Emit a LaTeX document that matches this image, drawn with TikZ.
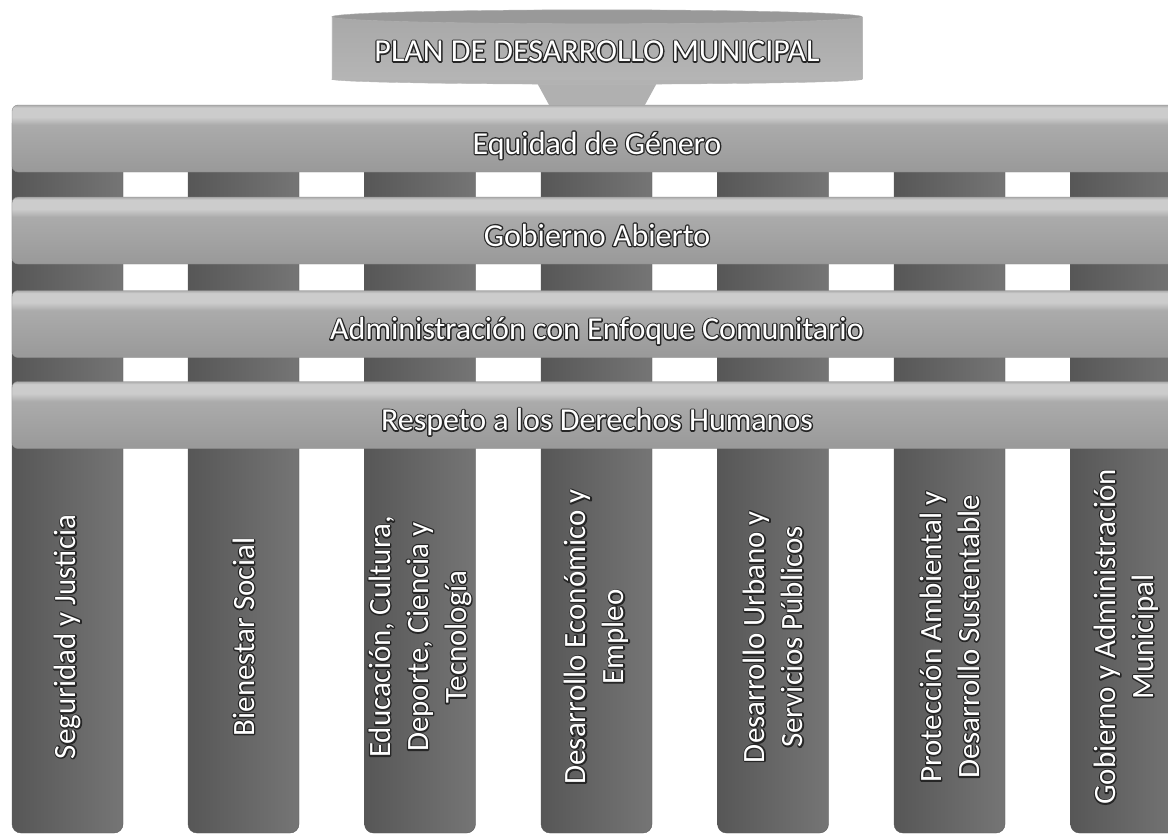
\documentclass[tikz,border=0pt]{standalone}
\usepackage{fontspec}
\setmainfont{Carlito}
\usetikzlibrary{positioning,calc}

\definecolor{bandlight}{gray}{0.80}
\definecolor{bandmid}{gray}{0.67}
\definecolor{banddark}{gray}{0.60}
\definecolor{pillardark}{gray}{0.34}
\definecolor{pillarlight}{gray}{0.46}

\pgfdeclareverticalshading{bandshade}{100bp}{color(0bp)=(banddark); color(25bp)=(banddark); color(60bp)=(bandmid); color(66bp)=(bandlight); color(73bp)=(bandlight); color(75bp)=(bandmid); color(100bp)=(bandmid)}

% white letters over a dark stroked rim
\newcommand{\glow}[1]{\makebox[0pt][l]{\special{pdf:literal direct 1 Tr 1 j 2.6 w 0.15 G}#1\special{pdf:literal direct 0 Tr}}#1}

\tikzset{
  band/.style={draw=black!45, rounded corners=6pt, shading=bandshade, minimum width=1170pt, minimum height=67pt, inner sep=0pt, text=white, text height=31pt, text depth=0pt, font=\fontsize{32}{38}\selectfont},
  pillar/.style={draw=black!65, rounded corners=9pt, left color=pillardark, right color=pillarlight, minimum width=111pt, minimum height=718pt, inner sep=0pt},
  ptext/.style={rotate=90, align=center, text=white, font=\fontsize{31}{38}\selectfont},
}

\begin{document}
\begin{tikzpicture}[x=1pt,y=-1pt]
\path[use as bounding box, fill=white] (0,0) rectangle (1168,835);

% pillars
\node (seg)[pillar] at (67.5,474) {};
\node (bien)[pillar] at (243.5,474) {};
\node (edu)[pillar] at (420,474) {};
\node (eco)[pillar] at (596.5,474) {};
\node (urb)[pillar] at (773,474) {};
\node (amb)[pillar] at (949.5,474) {};
\node (gob)[pillar] at (1126,474) {};

% cross bands
\node (equidad)[band] at (597,138.5) {\glow{Equidad de Género}};
\node (abierto)[band] at (597,230.5) {\glow{Gobierno Abierto}};
\node (admin)[band] at (597,324) {\glow{Administración con Enfoque Comunitario}};
\node (respeto)[band] at (597,415) {\glow{Respeto a los Derechos Humanos}};

% plan on top
\node (plan)[minimum width=530pt, minimum height=62pt, inner sep=0pt] at (597,48) {};
\fill[gray!62] ($(plan.south)+(-62,0)$) -- ($(plan.south)+(62,0)$) -- ($(equidad.north)+(48,0)$) -- ($(equidad.north)+(-48,0)$) -- cycle;
\fill[gray!60, draw=gray!55] (plan.south) ellipse [x radius=265, y radius=5];
\fill[top color=gray!68, bottom color=gray!58] (plan.south west) rectangle (plan.north east);
\draw[gray!55] (plan.north west) -- (plan.south west) (plan.north east) -- (plan.south east);
\fill[gray!80, draw=gray!60] (plan.north) ellipse [x radius=265, y radius=7];
\node (plant)[text=white, text height=27pt, text depth=0pt, inner sep=0pt, font=\fontsize{32}{38}\selectfont] at (plan.center) {\glow{PLAN DE DESARROLLO MUNICIPAL}};

% pillar labels
\node (segt)[ptext] at (67.5,637) {\glow{Seguridad y Justicia}};
\node (bient)[ptext] at (243.5,637) {\glow{Bienestar Social}};
\node (edut)[ptext] at (420,637) {\glow{Educación, Cultura,}\\\glow{Deporte, Ciencia y}\\\glow{Tecnología}};
\node (ecot)[ptext] at (596.5,637) {\glow{Desarrollo Económico y}\\\glow{Empleo}};
\node (urbt)[ptext] at (773,637) {\glow{Desarrollo Urbano y}\\\glow{Servicios Públicos}};
\node (ambt)[ptext] at (949.5,637) {\glow{Protección Ambiental y}\\\glow{Desarrollo Sustentable}};
\node (gobt)[ptext] at (1126,637) {\glow{Gobierno y Administración}\\\glow{Municipal}};
\end{tikzpicture}
\end{document}
